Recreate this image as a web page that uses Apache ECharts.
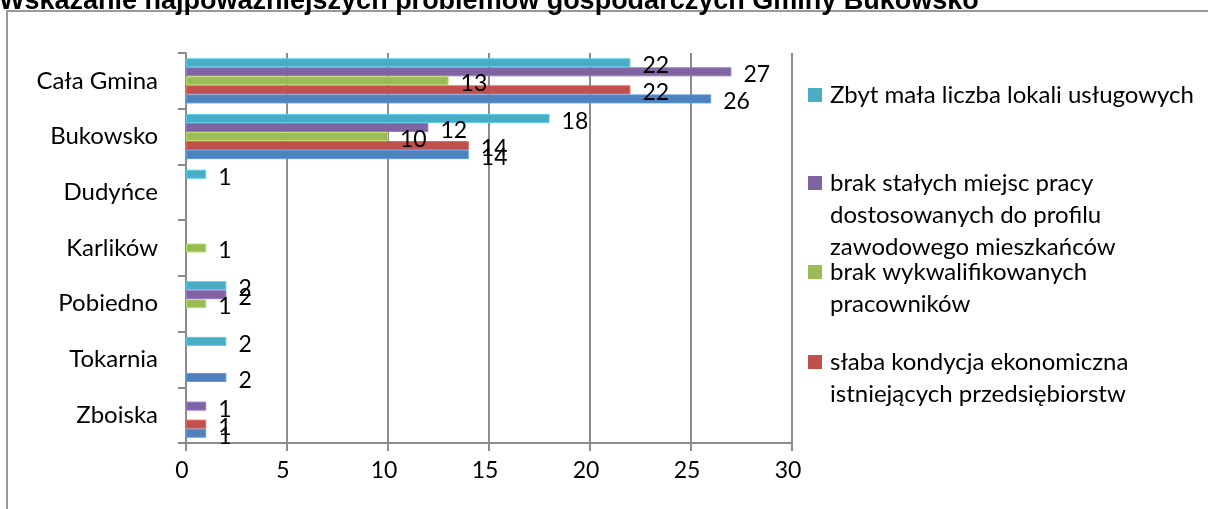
<!DOCTYPE html>
<html><head><meta charset="utf-8">
<script src="https://cdn.jsdelivr.net/npm/echarts@6/dist/echarts.min.js"></script>
<style>html,body{margin:0;padding:0;background:#fff}#c{width:1208px;height:509px}</style>
</head><body><div id="c"></div>
<script>
const titleText = 'Wskazanie najpoważniejszych problemów gospodarczych Gminy Bukowsko';
const categories = ['Cała Gmina', 'Bukowsko', 'Dudyńce', 'Karlików', 'Pobiedno', 'Tokarnia', 'Zboiska'];
const seriesNames = [
  'Zbyt mała liczba lokali usługowych',
  'brak stałych miejsc pracy dostosowanych do profilu zawodowego mieszkańców',
  'brak wykwalifikowanych pracowników',
  'słaba kondycja ekonomiczna istniejących przedsiębiorstw',
  'inne'
];
const legendLines = [
  ['Zbyt mała liczba lokali usługowych'],
  ['brak stałych miejsc pracy', 'dostosowanych do profilu', 'zawodowego mieszkańców'],
  ['brak wykwalifikowanych', 'pracowników'],
  ['słaba kondycja ekonomiczna', 'istniejących przedsiębiorstw']
];
const valuesUslugi     = [22, 18, 1, null, 2, 2, null];
const valuesPraca      = [27, 12, null, null, 2, null, 1];
const valuesPracownicy = [13, 10, null, 1, 1, null, null];
const valuesKondycja   = [22, 14, null, null, null, null, 1];
const valuesInne       = [26, 14, null, null, null, 2, 1];
const xTickValues = [0, 5, 10, 15, 20, 25, 30];

const allValues = [valuesUslugi, valuesPraca, valuesPracownicy, valuesKondycja, valuesInne];
const colors = ['#4BACC6', '#8064A2', '#9BBB59', '#C0504D', '#4F81BD'];
const FONT = 'Lato';

const chart = echarts.init(document.getElementById('c'));

const legendY = [95, 183, 272, 362];
const legendGraphics = [];
legendLines.forEach((lines, i) => {
  legendGraphics.push({
    type: 'rect', shape: { x: 808, y: legendY[i] - 7, width: 14, height: 14 },
    style: { fill: colors[i] }, silent: true
  });
  legendGraphics.push({
    type: 'text', x: 830, y: legendY[i] - 16,
    style: { text: lines.join('\n'), fill: '#000', font: '24px ' + FONT, lineHeight: 32, verticalAlign: 'top' },
    silent: true
  });
});

const option = {
  animation: false,
  backgroundColor: '#fff',
  grid: { left: 186, top: 53, width: 606, height: 390 },
  xAxis: {
    type: 'value', min: 0, max: 30, interval: 5,
    axisLine: { show: true, lineStyle: { color: '#8c8c8c', width: 2 } },
    axisTick: { show: true, length: 8, lineStyle: { color: '#8c8c8c', width: 2 } },
    axisLabel: {
      color: '#000', fontFamily: FONT, fontSize: 23, margin: 16, padding: [0, 8, 0, 0],
      formatter: v => xTickValues.indexOf(v) >= 0 ? String(v) : ''
    },
    splitLine: { show: true, lineStyle: { color: '#8c8c8c', width: 2 } }
  },
  yAxis: {
    type: 'category', data: categories, inverse: true,
    axisLine: { show: true, lineStyle: { color: '#8c8c8c', width: 2 } },
    axisTick: { show: true, length: 8, lineStyle: { color: '#8c8c8c', width: 2 } },
    axisLabel: { color: '#000', fontFamily: FONT, fontSize: 24, margin: 28 },
    splitLine: { show: false }
  },
  series: allValues.map((vals, i) => ({
    type: 'bar', name: seriesNames[i], data: vals,
    barGap: '0%', barCategoryGap: '19%',
    itemStyle: { color: colors[i], borderColor: echarts.color.lift(colors[i], -0.2), borderWidth: 1 },
    label: {
      show: true, position: 'right', distance: 12, offset: [0, 3],
      color: '#000', fontFamily: FONT, fontSize: 23
    }
  })),
  graphic: [
    { type: 'rect', shape: { x: 7, y: 11, width: 1400, height: 700 },
      style: { fill: 'none', stroke: '#999', lineWidth: 2 }, silent: true, z: -1 },
    { type: 'text', x: -1, y: 15,
      style: { text: titleText, fill: '#000', font: 'bold 27px "Liberation Sans"', verticalAlign: 'bottom' }, silent: true },
    ...legendGraphics
  ]
};
chart.setOption(option);
</script>
</body></html>
